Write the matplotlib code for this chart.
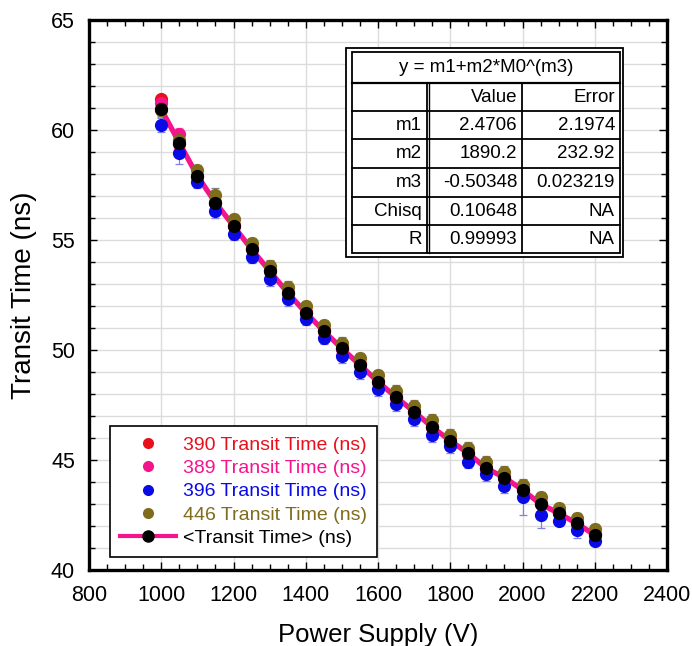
import matplotlib
matplotlib.use("Agg")
import matplotlib.pyplot as plt
from matplotlib.lines import Line2D
from matplotlib.patches import Rectangle
from matplotlib.ticker import MultipleLocator

plt.rcParams['font.family'] = ['Liberation Sans', 'DejaVu Sans']

voltage = [1000, 1050, 1100, 1150, 1200, 1250, 1300, 1350, 1400, 1450, 1500, 1550,
           1600, 1650, 1700, 1750, 1800, 1850, 1900, 1950, 2000, 2050, 2100, 2150, 2200]

t390 = [61.40, 59.36, 57.93, 56.72, 55.67, 54.60, 53.62, 52.61, 51.72, 50.89, 50.09, 49.35,
        48.58, 47.87, 47.22, 46.50, 45.90, 45.33, 44.63, 44.22, 43.66, 43.05, 42.60, 42.14, 41.62]
t389 = [61.24, 59.84, 57.88, 56.68, 55.62, 54.57, 53.58, 52.59, 51.69, 50.85, 50.06, 49.31,
        48.55, 47.84, 47.19, 46.48, 45.87, 45.29, 44.61, 44.19, 43.63, 42.99, 42.57, 42.11, 41.58]
t396 = [60.23, 58.94, 57.65, 56.32, 55.28, 54.25, 53.23, 52.31, 51.43, 50.56, 49.72, 48.99,
        48.21, 47.53, 46.85, 46.14, 45.64, 44.92, 44.36, 43.82, 43.31, 42.50, 42.25, 41.82, 41.33]
t446 = [60.90, 59.54, 58.18, 57.05, 55.94, 54.85, 53.82, 52.87, 52.00, 51.13, 50.33, 49.62,
        48.86, 48.14, 47.46, 46.82, 46.14, 45.56, 44.92, 44.47, 43.87, 43.30, 42.81, 42.35, 41.85]
t_mean = [60.94, 59.42, 57.91, 56.70, 55.64, 54.58, 53.59, 52.60, 51.70, 50.86, 50.07, 49.32,
          48.56, 47.85, 47.20, 46.49, 45.88, 45.30, 44.62, 44.20, 43.64, 43.00, 42.58, 42.12, 41.59]

e390 = [0.20, 0.15, 0.15, 0.15, 0.15, 0.15, 0.15, 0.15, 0.15, 0.15, 0.15, 0.15,
        0.15, 0.15, 0.15, 0.15, 0.15, 0.15, 0.15, 0.15, 0.15, 0.15, 0.15, 0.15, 0.15]
e389 = [0.20, 0.25, 0.20, 0.20, 0.20, 0.20, 0.20, 0.20, 0.20, 0.20, 0.20, 0.20,
        0.20, 0.20, 0.20, 0.20, 0.20, 0.20, 0.20, 0.20, 0.20, 0.20, 0.20, 0.20, 0.20]
e396 = [0.30, 0.50, 0.30, 0.30, 0.30, 0.30, 0.30, 0.30, 0.30, 0.30, 0.30, 0.30,
        0.30, 0.30, 0.30, 0.30, 0.30, 0.30, 0.30, 0.30, 0.80, 0.60, 0.20, 0.35, 0.20]
e446 = [0.25, 0.25, 0.25, 0.30, 0.25, 0.25, 0.25, 0.25, 0.25, 0.25, 0.25, 0.25,
        0.25, 0.25, 0.25, 0.25, 0.25, 0.25, 0.25, 0.25, 0.25, 0.25, 0.25, 0.25, 0.25]
e_mean = [0.35, 0.55, 0.45, 0.45, 0.45, 0.45, 0.45, 0.40, 0.40, 0.40, 0.40, 0.40,
          0.40, 0.40, 0.40, 0.40, 0.35, 0.40, 0.40, 0.40, 0.40, 0.40, 0.30, 0.45, 0.30]

series = [
    ("390 Transit Time (ns)", t390, e390, "#e8101a", "#f08080"),
    ("389 Transit Time (ns)", t389, e389, "#f5148c", "#f590c0"),
    ("396 Transit Time (ns)", t396, e396, "#0a0ae6", "#8080e6"),
    ("446 Transit Time (ns)", t446, e446, "#7f6c1c", "#808080"),
]

fit_header = "y = m1+m2*M0^(m3)"
fit_cols = ["", "Value", "Error"]
fit_rows = [["m1", "2.4706", "2.1974"],
            ["m2", "1890.2", "232.92"],
            ["m3", "-0.50348", "0.023219"],
            ["Chisq", "0.10648", "NA"],
            ["R", "0.99993", "NA"]]

W, H = 692, 646
fig = plt.figure(figsize=(W / 100, H / 100), dpi=100)
ax = fig.add_axes([89 / W, 1 - 570 / H, (667 - 89) / W, (570 - 20) / H])

ax.set_xlim(800, 2400)
ax.set_ylim(40, 65)
ax.xaxis.set_major_locator(MultipleLocator(200))
ax.xaxis.set_minor_locator(MultipleLocator(50))
ax.yaxis.set_major_locator(MultipleLocator(5))
ax.yaxis.set_minor_locator(MultipleLocator(1))
ax.yaxis.grid(True, which='both', color='#dcdcdc', linewidth=1.0)
ax.xaxis.grid(True, which='major', color='#dcdcdc', linewidth=1.0)
ax.set_axisbelow(True)
ax.tick_params(which='both', direction='in', top=True, right=True, labelsize=15.5,
               width=1.0, colors='black')
ax.tick_params(which='major', length=6)
ax.tick_params(which='minor', length=4)
ax.tick_params(axis='x', which='major', pad=11)
ax.tick_params(axis='y', which='major', pad=10)
for s in ax.spines.values():
    s.set_linewidth(2.4)

# error bars
for label, y, e, c, ec in series:
    ax.errorbar(voltage, y, yerr=e, fmt='none', ecolor=ec, elinewidth=0.9,
                capsize=3, capthick=0.9, zorder=2)
ax.errorbar(voltage, t_mean, yerr=e_mean, fmt='none', ecolor='#8fae8f', elinewidth=0.9,
            capsize=3, capthick=0.9, zorder=2)

ax.plot(voltage, t_mean, color='#f5148c', linewidth=3.8, zorder=3)
for label, y, e, c, ec in series:
    ax.plot(voltage, y, linestyle='none', marker='o', markersize=9.5,
            color=c, markeredgewidth=0, zorder=4)
ax.plot(voltage, t_mean, linestyle='none', marker='o', markersize=9.5,
        color='black', markeredgewidth=0, zorder=5)

ax.set_xlabel("Power Supply (V)", fontsize=18.5, labelpad=12)
ax.set_ylabel("Transit Time (ns)", fontsize=20, labelpad=10)

handles = [Line2D([], [], linestyle='none', marker='o', markersize=8,
                  color=c, markeredgewidth=0) for _, _, _, c, _ in series]
handles.append(Line2D([], [], color='#f5148c', linewidth=3, marker='o', markersize=8,
                      markerfacecolor='black', markeredgecolor='black'))
labels = [s[0] for s in series] + ["<Transit Time> (ns)"]
leg = ax.legend(handles, labels, loc='lower left',
                bbox_to_anchor=((110 - 89) / 578, (570 - 557) / 550),
                borderaxespad=0, fontsize=14, handlelength=2.9, handletextpad=0.35,
                labelspacing=0.3, borderpad=0.5, fancybox=False, framealpha=1,
                edgecolor='black')
leg.get_frame().set_linewidth(1.2)
for txt, (_, _, _, c, _) in zip(leg.get_texts(), series):
    txt.set_color(c)

# fit table overlay in pixel coordinates
ov = fig.add_axes([0, 0, 1, 1], facecolor='none')
ov.set_xlim(0, W)
ov.set_ylim(H, 0)
ov.axis('off')
x0, x1, x2, x3 = 352, 427, 522, 620
ys = [52, 83, 111, 139, 168, 197, 225, 253]
ov.add_patch(Rectangle((346, 48), 623 - 346, 257 - 48, facecolor='white',
                       edgecolor='black', linewidth=1.3, zorder=1))
ov.add_patch(Rectangle((x0, ys[0]), x3 - x0, ys[-1] - ys[0], facecolor='white',
                       edgecolor='black', linewidth=1.3, zorder=2))
for y in ys[1:-1]:
    ov.plot([x0, x3], [y, y], color='black', linewidth=1.3 if y != ys[1] else 1.6, zorder=3)
for x in (x1, x2):
    ov.plot([x, x], [ys[1], ys[-1]], color='black', linewidth=1.3, zorder=3)
ov.plot([x1 + 2, x1 + 2], [ys[1], ys[-1]], color='black', linewidth=1.0, zorder=3)
ov.text((x0 + x3) / 2, (ys[0] + ys[1]) / 2, fit_header, ha='center', va='center',
        fontsize=13.5, zorder=4)
rows = [fit_cols] + fit_rows
for i, row in enumerate(rows):
    yc = (ys[i + 1] + ys[i + 2]) / 2
    for j, (txt, xr) in enumerate(zip(row, (x1, x2, x3))):
        ov.text(xr - 5, yc, txt, ha='right', va='center', fontsize=13.5, zorder=4)

fig.savefig("out.png", dpi=100)
